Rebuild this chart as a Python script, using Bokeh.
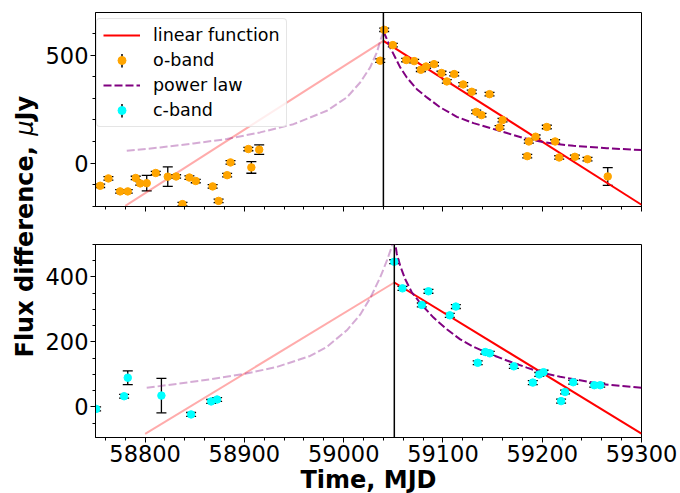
import math
from bokeh.plotting import figure
from bokeh.models import (Range1d, Span, Whisker, TeeHead, ColumnDataSource,
                          Legend, LegendItem, Label, FixedTicker, CustomLabelingPolicy)
from bokeh.layouts import row, column
from bokeh.embed import file_html
from bokeh.resources import INLINE

FONT = "DejaVu Sans"

# ---------------- data ----------------
x_ticks = [58800, 58900, 59000, 59100, 59200, 59300]
top_y_ticks = [0, 500]
bot_y_ticks = [0, 200, 400]

# o-band (top panel)
o_mjd = [58754.7, 58763.0, 58774.8, 58782.5, 58790.5, 58795.0, 58801.6, 58810.7,
         58822.8, 58831.2, 58837.6, 58844.6, 58851.0, 58868.0, 58874.0, 58882.6,
         58886.0, 58904.0, 58907.0, 58914.9, 59036.8, 59040.8, 59049.5, 59063.0,
         59071.0, 59077.7, 59083.0, 59091.0, 59098.5, 59103.9, 59111.3, 59120.4,
         59129.0, 59133.5, 59138.8, 59146.9, 59157.0, 59160.0, 59184.9, 59186.5,
         59193.3, 59204.6, 59213.0, 59217.1, 59232.9, 59245.6, 59266.0]
o_flux = [-105, -71, -131, -131, -69, -94, -93, -46,
          -63, -62, -190, -67, -83, -108, -175, -56,
          3, 65, -20, 62, 474, 617, 546, 477,
          472, 432, 447, 458, 417, 378, 412, 364,
          330, 237, 222, 319, 165, 199, 32, 100,
          122, 167, 100, 26, 29, 18, -62]
o_err = [8, 8, 8, 8, 8, 8, 36, 8,
         45, 8, 8, 8, 8, 8, 8, 8,
         8, 8, 27, 22, 8, 8, 8, 8,
         8, 8, 8, 8, 8, 8, 8, 8,
         8, 8, 8, 8, 8, 8, 8, 8,
         8, 8, 8, 8, 8, 8, 41]

# c-band (bottom panel)
c_mjd = [58750.6, 58778.8, 58782.5, 58816.4, 58846.3, 58866.5, 58872.5, 59050.9,
         59059.2, 59078.7, 59085.4, 59106.9, 59113.0, 59135.0, 59142.6, 59147.2,
         59171.4, 59190.5, 59197.0, 59201.3, 59219.0, 59223.0, 59231.2, 59252.4,
         59258.4]
c_flux = [-6, 33, 90, 35, -23, 17, 23, 447,
          365, 314, 356, 282, 309, 136, 169, 165,
          125, 75, 100, 107, 18, 46, 76, 67,
          67]
c_err = [6, 6, 21, 53, 6, 6, 6, 6,
         6, 6, 6, 6, 6, 6, 6, 6,
         6, 6, 6, 6, 6, 6, 6, 6,
         6]

# peak epochs
peak_o = 59040
peak_c = 59051

# linear function fits
lin_o_rise_x = [58780, 59040]
lin_o_rise_y = [-198, 566]
lin_o_fall_x = [59040, 59300]
lin_o_fall_y = [566, -193]
lin_c_rise_x = [58800, 59051]
lin_c_rise_y = [-83, 383]
lin_c_fall_x = [59051, 59300]
lin_c_fall_y = [383, -82]

# power-law fits
pl_o_rise_x = [58781.5, 58815.1, 58848.7, 58882.2, 58915.8, 58949.4, 58983.0,
               59003.2, 59016.6, 59026.7, 59033.4, 59037.4, 59040.1]
pl_o_rise_y = [57, 72, 91, 111, 142, 180, 242, 304, 373, 443, 512, 574, 609]
pl_o_fall_x = [59040.1, 59043.5, 59046.8, 59051.9, 59056.9, 59063.6, 59073.7,
               59083.8, 59097.2, 59114.0, 59130.8, 59147.6, 59164.4, 59181.2,
               59198.0, 59214.7, 59231.5, 59265.1, 59300.0]
pl_o_fall_y = [609, 574, 535, 489, 443, 396, 342, 304, 258, 214, 185, 162, 139,
               116, 100, 88, 80, 69, 60]
pl_c_rise_x = [58801.6, 58831.9, 58865.5, 58900.7, 58932.6, 58966.2, 58983.0,
               59003.2, 59016.6, 59026.7, 59036.8, 59043.5, 59048.5, 59051.0]
pl_c_rise_y = [59, 71, 85, 102, 123, 157, 185, 236, 284, 335, 399, 450, 494, 525]
pl_c_fall_x = [59051.0, 59053.5, 59056.9, 59061.9, 59068.6, 59078.7, 59090.5,
               59103.9, 59117.4, 59130.8, 59144.2, 59164.4, 59184.5, 59201.3,
               59218.1, 59238.2, 59258.4, 59278.6, 59300.0]
pl_c_fall_y = [525, 471, 435, 394, 353, 314, 275, 239, 208, 185, 167, 143, 121,
               104, 93, 82, 71, 65, 59]

# ---------------- helpers ----------------
x_minor = list(range(58760, 59301, 20))
top_y_minor = list(range(-200, 601, 100))
bot_y_minor = list(range(-50, 501, 50))

TICK_FS = "22.5px"
DOT = 7.5


def style(p, yticks, yminor):
    p.xaxis.ticker = FixedTicker(ticks=x_ticks, minor_ticks=x_minor)
    p.yaxis.ticker = FixedTicker(ticks=yticks, minor_ticks=yminor)
    for ax in p.axis:
        ax.major_tick_in = 0
        ax.major_tick_out = 5
        ax.minor_tick_in = 0
        ax.minor_tick_out = 3
        ax.major_tick_line_color = "black"
        ax.minor_tick_line_color = "black"
        ax.axis_line_color = "black"
        ax.major_label_text_font = FONT
        ax.major_label_text_font_size = TICK_FS
        ax.major_label_text_color = "black"
        ax.major_label_standoff = 2
    p.xgrid.visible = False
    p.ygrid.visible = False
    p.outline_line_color = "black"
    p.outline_line_width = 1
    p.outline_line_alpha = 1
    p.background_fill_color = "white"
    p.border_fill_color = "white"


def errbars(p, xs, ys, es):
    src = ColumnDataSource(dict(x=xs, upper=[y + e for y, e in zip(ys, es)],
                                lower=[y - e for y, e in zip(ys, es)]))
    w = Whisker(base="x", upper="upper", lower="lower", source=src,
                line_color="black", line_width=1.3,
                upper_head=TeeHead(size=10, line_color="black", line_width=1.3),
                lower_head=TeeHead(size=10, line_color="black", line_width=1.3))
    p.add_layout(w)


RED = "red"
PURPLE = "purple"
FADE = 0.33
LW = 2
DASH = "8 3"

STRIP_W = 42
LEFT_B = 92 - STRIP_W

# ---------------- top panel ----------------
p1 = figure(frame_width=546, frame_height=194,
            x_range=Range1d(58750, 59300), y_range=Range1d(-201, 697),
            toolbar_location=None, output_backend="svg",
            min_border_left=LEFT_B, min_border_right=680 - STRIP_W - LEFT_B - 546,
            min_border_top=12, min_border_bottom=19)
style(p1, top_y_ticks, top_y_minor)
# shared x axis: ticks only, no labels on the upper panel
p1.xaxis.major_label_text_font_size = "1px"
p1.xaxis.major_label_policy = CustomLabelingPolicy(
    code="for (const i of indices) { indices.unset(i) }")

p1.line(lin_o_rise_x, lin_o_rise_y, line_color=RED, line_alpha=FADE, line_width=LW)
r_lin = p1.line(lin_o_fall_x, lin_o_fall_y, line_color=RED, line_width=LW)
p1.line(pl_o_rise_x, pl_o_rise_y, line_color=PURPLE, line_alpha=FADE,
        line_width=LW, line_dash=DASH)
r_pl = p1.line(pl_o_fall_x, pl_o_fall_y, line_color=PURPLE, line_width=LW,
               line_dash=DASH)
p1.add_layout(Span(location=peak_o, dimension="height", line_color="black",
                   line_width=1.5))
errbars(p1, o_mjd, o_flux, o_err)
r_o = p1.scatter(o_mjd, o_flux, size=DOT, fill_color="orange", line_color="orange")

# legend-only helpers (placed far outside the visible range)
eb_dummy = p1.ellipse(x=[0], y=[0], width=0.001, height=1000, fill_color=None,
                      line_color="black", line_width=1.5)
c_dummy = p1.scatter(x=[0], y=[0], size=DOT, fill_color="cyan", line_color="cyan")

legend = Legend(items=[
    LegendItem(label="linear function", renderers=[r_lin]),
    LegendItem(label="o-band", renderers=[eb_dummy, r_o]),
    LegendItem(label="power law", renderers=[r_pl]),
    LegendItem(label="c-band", renderers=[eb_dummy, c_dummy]),
], location=(1, 79))
legend.label_text_font = FONT
legend.label_text_font_size = "17.5px"
legend.label_text_color = "black"
legend.glyph_width = 37
legend.glyph_height = 20
legend.label_height = 20
legend.label_standoff = 13
legend.spacing = 5
legend.padding = 6
legend.margin = 0
legend.border_line_color = "#cccccc"
legend.border_line_width = 1
legend.background_fill_alpha = 0.8
if "border_radius" in Legend.properties():
    legend.border_radius = 4
p1.add_layout(legend)

# ---------------- bottom panel ----------------
p2 = figure(frame_width=546, frame_height=193,
            x_range=Range1d(58750, 59300), y_range=Range1d(-94, 500),
            toolbar_location=None, output_backend="svg",
            min_border_left=LEFT_B, min_border_right=680 - STRIP_W - LEFT_B - 546,
            min_border_top=19, min_border_bottom=56)
style(p2, bot_y_ticks, bot_y_minor)
p2.xaxis.axis_label = "Time, MJD"
p2.xaxis.axis_label_text_font = FONT
p2.xaxis.axis_label_text_font_size = "24px"
p2.xaxis.axis_label_text_font_style = "bold"
p2.xaxis.axis_label_text_color = "black"
p2.xaxis.axis_label_standoff = 1

p2.line(lin_c_rise_x, lin_c_rise_y, line_color=RED, line_alpha=FADE, line_width=LW)
p2.line(lin_c_fall_x, lin_c_fall_y, line_color=RED, line_width=LW)
p2.line(pl_c_rise_x, pl_c_rise_y, line_color=PURPLE, line_alpha=FADE,
        line_width=LW, line_dash=DASH)
p2.line(pl_c_fall_x, pl_c_fall_y, line_color=PURPLE, line_width=LW, line_dash=DASH)
p2.add_layout(Span(location=peak_c, dimension="height", line_color="black",
                   line_width=1.5))
errbars(p2, c_mjd, c_flux, c_err)
p2.scatter(c_mjd, c_flux, size=DOT, fill_color="cyan", line_color="cyan")

# ---------------- y label strip ----------------
lab = figure(width=STRIP_W, height=493, x_range=Range1d(0, STRIP_W),
             y_range=Range1d(493, 0),
             toolbar_location=None, output_backend="svg",
             x_axis_location=None, y_axis_location=None,
             min_border_left=0, min_border_right=0, min_border_top=0,
             min_border_bottom=0)
lab.grid.visible = False
lab.outline_line_color = None
LFS = 24
y_start = 357
w_bold = 9.238 * LFS
w_mu = 0.636 * LFS
common = dict(x=24.5, angle=math.pi / 2, text_align="left", text_baseline="middle",
              text_font=FONT, text_font_size=f"{LFS}px", text_color="black")
lab.add_layout(Label(y=y_start, text="Flux difference, ", text_font_style="bold", **common))
lab.add_layout(Label(y=y_start - w_bold, text="\u03bc", text_font_style="italic", **common))
lab.add_layout(Label(y=y_start - w_bold - w_mu, text="Jy", text_font_style="bold", **common))

layout = row(lab, column(p1, p2))

open("out.html", "w").write(file_html(layout, INLINE))
